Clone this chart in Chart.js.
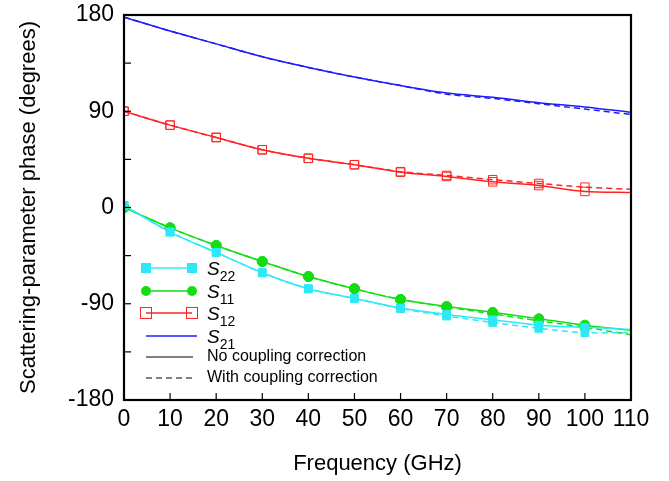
<!DOCTYPE html>
<html>
<head>
<meta charset="utf-8">
<script src="https://cdn.jsdelivr.net/npm/chart.js@4/dist/chart.umd.min.js"></script>
<style>
    html, body { margin: 0; padding: 0; background: #fff; }
    #wrap { width: 669px; height: 481px; }
</style>
</head>
<body>
<div id="wrap"><canvas id="phaseChart" width="669" height="481"></canvas></div>
<script>
// Frekans (GHz)
const freq = [0, 10, 20, 30, 40, 50, 60, 70, 80, 90, 100, 110];

// S-parametre fazı (derece), okunan degerler
const s21NoCorr   = [178, 165, 153, 141, 131, 122, 114, 107, 103, 98, 94, 89];
const s21WithCorr = [178, 165, 153, 141, 131, 122, 114, 106, 102, 97, 92, 87];
const s12NoCorr   = [90, 77, 65.5, 54, 46, 40, 33, 29, 24, 20.5, 15, 14];
const s12WithCorr = [90, 77, 65.5, 54, 46, 40, 33.5, 30, 26, 22.5, 19, 17];
const s11NoCorr   = [0, -19, -35.5, -50.5, -64.5, -76, -86, -92.5, -98, -104, -110, -115];
const s11WithCorr = [0, -19, -35.5, -50.5, -64.5, -76, -86, -93, -99.5, -106, -112, -119];
const s22NoCorr   = [2, -23, -42, -61, -76, -85, -94, -100, -105, -110, -112, -114];
const s22WithCorr = [2, -23, -42, -61, -76, -85, -94.5, -101.5, -107.5, -113, -117, -117];

const yTickLabels = [-180, -90, 0, 90, 180];

const colors = {
    s22: '#2ee8f8',
    s11: '#14dd14',
    s12: '#ff2424',
    s21: '#1c1cff'
};

const fontFamily = "'Liberation Sans', Arial, sans-serif";
Chart.defaults.font.family = fontFamily;
Chart.defaults.color = '#000';

function toPoints(values) {
    return values.map((v, i) => ({ x: freq[i], y: v }));
}

// son noktada (110 GHz) isaret yok
const markerRadius = r => (ctx => ctx.dataIndex === freq.length - 1 ? 0 : r);

function makeSet(label, values, color, dashed, style) {
    return {
        label: label,
        data: toPoints(values),
        borderColor: color,
        borderWidth: 1.5,
        borderDash: dashed ? [6, 4] : [],
        tension: 0.3,
        pointStyle: style.pointStyle || 'circle',
        pointRadius: style.radius ? markerRadius(style.radius) : 0,
        pointBorderWidth: style.borderWidth || 1,
        pointBackgroundColor: style.fill || color,
        pointBorderColor: color,
        fill: false
    };
}

const squareFilled = { pointStyle: 'rect', radius: 5.5, fill: colors.s22 };
const circleFilled = { pointStyle: 'circle', radius: 5, fill: colors.s11 };
const squareOpen = { pointStyle: 'rect', radius: 6, fill: 'rgba(255,255,255,0)', borderWidth: 1 };

// cerceve ve iceri dogru tikler
const frameTicks = {
    id: 'frameTicks',
    afterDraw(chart) {
        const ctx = chart.ctx;
        const area = chart.chartArea;
        const xs = chart.scales.x;
        const ys = chart.scales.y;
        ctx.save();
        ctx.strokeStyle = '#000';
        ctx.lineWidth = 1.2;
        ys.ticks.forEach(t => {
            const y = ys.getPixelForValue(t.value);
            ctx.beginPath();
            ctx.moveTo(area.left, y);
            ctx.lineTo(area.left + 7, y);
            ctx.stroke();
        });
        xs.ticks.forEach(t => {
            const x = xs.getPixelForValue(t.value);
            ctx.beginPath();
            ctx.moveTo(x, area.bottom);
            ctx.lineTo(x, area.bottom - 7);
            ctx.stroke();
        });
        ctx.lineWidth = 2.2;
        ctx.strokeRect(area.left, area.top, area.right - area.left, area.bottom - area.top);
        ctx.restore();
    }
};

// alt simgeli ozel lejant
const customLegend = {
    id: 'customLegend',
    afterDraw(chart) {
        const ctx = chart.ctx;
        const x0 = 146, x1 = 192, tx = 207;
        const rows = [
            { y: 268, sub: '22', color: colors.s22, marker: 'sqf' },
            { y: 291, sub: '11', color: colors.s11, marker: 'circ' },
            { y: 313, sub: '12', color: colors.s12, marker: 'sqo' },
            { y: 336, sub: '21', color: colors.s21, marker: null }
        ];
        ctx.save();
        rows.forEach(r => {
            ctx.strokeStyle = r.color;
            ctx.lineWidth = 1.5;
            ctx.setLineDash([]);
            ctx.beginPath();
            ctx.moveTo(x0, r.y);
            ctx.lineTo(r.marker ? x1 : 197, r.y);
            ctx.stroke();
            [x0, x1].forEach(mx => {
                if (r.marker === 'sqf') {
                    ctx.fillStyle = r.color;
                    ctx.fillRect(mx - 5, r.y - 5, 10, 10);
                } else if (r.marker === 'circ') {
                    ctx.fillStyle = r.color;
                    ctx.beginPath();
                    ctx.arc(mx, r.y, 5, 0, Math.PI * 2);
                    ctx.fill();
                } else if (r.marker === 'sqo') {
                    ctx.lineWidth = 1;
                    ctx.strokeRect(mx - 5.5, r.y - 5.5, 11, 11);
                }
            });
            ctx.fillStyle = '#000';
            ctx.textBaseline = 'alphabetic';
            ctx.font = 'italic 19px ' + fontFamily;
            ctx.fillText('S', tx, r.y + 7);
            const w = ctx.measureText('S').width;
            ctx.font = '14px ' + fontFamily;
            ctx.fillText(r.sub, tx + w, r.y + 13);
        });
        const blackRows = [
            { y: 357, dash: [], text: 'No coupling correction' },
            { y: 378, dash: [6, 4], text: 'With coupling correction' }
        ];
        blackRows.forEach(r => {
            ctx.strokeStyle = '#000';
            ctx.lineWidth = 1.2;
            ctx.setLineDash(r.dash);
            ctx.beginPath();
            ctx.moveTo(x0, r.y);
            ctx.lineTo(193, r.y);
            ctx.stroke();
            ctx.setLineDash([]);
            ctx.fillStyle = '#000';
            ctx.font = '16px ' + fontFamily;
            ctx.textBaseline = 'middle';
            ctx.fillText(r.text, tx, r.y);
        });
        ctx.restore();
    }
};

const ctx = document.getElementById('phaseChart').getContext('2d');
new Chart(ctx, {
    type: 'line',
    data: {
        datasets: [
            makeSet('S21', s21NoCorr, colors.s21, false, {}),
            makeSet('S21 corr', s21WithCorr, colors.s21, true, {}),
            makeSet('S12', s12NoCorr, colors.s12, false, squareOpen),
            makeSet('S12 corr', s12WithCorr, colors.s12, true, squareOpen),
            makeSet('S22', s22NoCorr, colors.s22, false, squareFilled),
            makeSet('S22 corr', s22WithCorr, colors.s22, true, squareFilled),
            makeSet('S11', s11NoCorr, colors.s11, false, circleFilled),
            makeSet('S11 corr', s11WithCorr, colors.s11, true, circleFilled)
        ]
    },
    options: {
        responsive: false,
        animation: false,
        layout: { padding: { top: 15, right: 38, left: 0, bottom: 0 } },
        plugins: {
            legend: { display: false },
            tooltip: { enabled: false }
        },
        scales: {
            x: {
                type: 'linear',
                min: 0,
                max: 110,
                grid: { display: false, drawTicks: false },
                border: { display: false },
                ticks: {
                    stepSize: 10,
                    padding: 6,
                    maxRotation: 0,
                    font: { size: 23 },
                    color: '#000'
                },
                title: {
                    display: true,
                    text: 'Frequency (GHz)',
                    font: { size: 22 },
                    color: '#000',
                    padding: { top: 0, bottom: 4 }
                },
                afterFit(scale) { scale.height = 81; }
            },
            y: {
                min: -180,
                max: 180,
                grid: { display: false, drawTicks: false },
                border: { display: false },
                ticks: {
                    stepSize: 45,
                    padding: 10,
                    font: { size: 23 },
                    color: '#000',
                    callback: v => yTickLabels.includes(v) ? String(v) : ''
                },
                title: {
                    display: true,
                    text: 'Scattering-parameter phase (degrees)',
                    font: { size: 22 },
                    color: '#000',
                    padding: { top: 16, bottom: 0 }
                },
                afterFit(scale) {
                    scale.width = 124;
                    scale.paddingTop = 0;
                    scale.paddingBottom = 0;
                }
            }
        }
    },
    plugins: [frameTicks, customLegend]
});
</script>
</body>
</html>
